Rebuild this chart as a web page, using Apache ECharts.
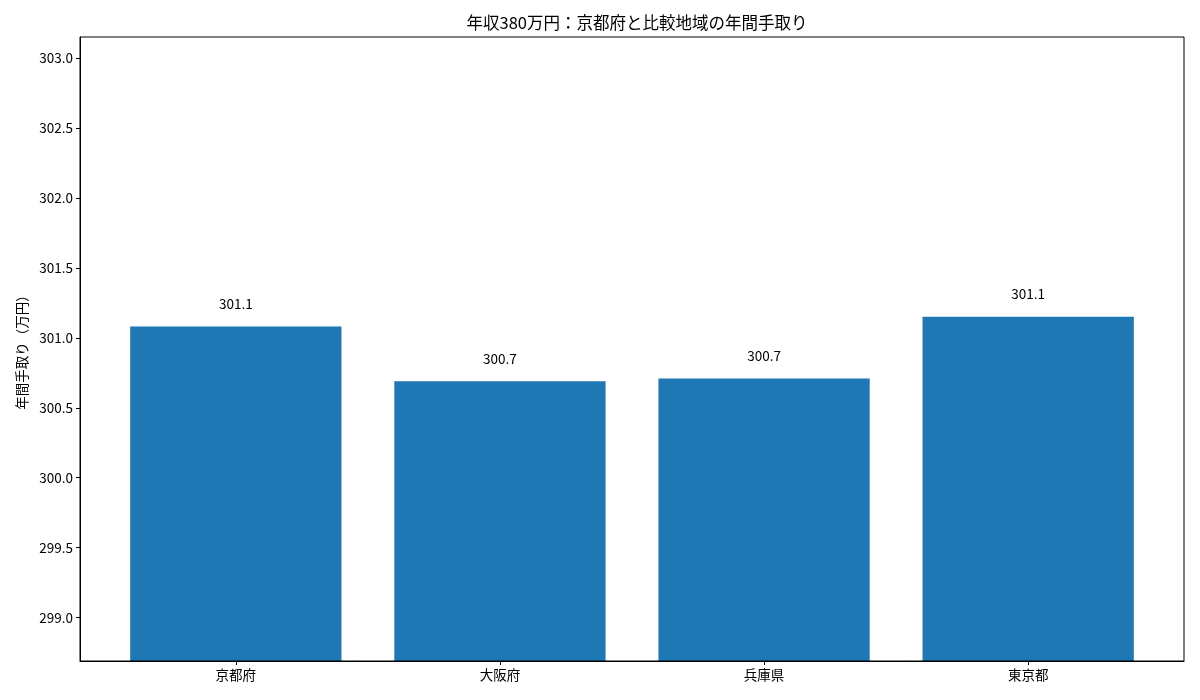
<!DOCTYPE html>
<html>
<head>
<meta charset="utf-8">
<script src="https://cdn.jsdelivr.net/npm/echarts@6/dist/echarts.min.js"></script>
<style>
    html, body { margin: 0; padding: 0; background: #fff; }
    #chart { width: 1200px; height: 700px; }
</style>
</head>
<body>
<div id="chart"></div>
<script>
// 地域ごとの年間手取り（万円）
const regions = ['京都府', '大阪府', '兵庫県', '東京都'];
const takeHome = [301.08, 300.69, 300.71, 301.15];
const yTicks = [299.0, 299.5, 300.0, 300.5, 301.0, 301.5, 302.0, 302.5, 303.0];
const xTicks = [0, 1, 2, 3];

const FONT = '"Noto Sans CJK JP", "Noto Sans", sans-serif';

const myChart = echarts.init(document.getElementById('chart'));

const option = {
    animation: false,
    textStyle: { fontFamily: FONT },
    title: {
        text: '年収380万円：京都府と比較地域の年間手取り',
        left: 632,
        textAlign: 'center',
        top: 9,
        textStyle: { fontFamily: FONT, fontSize: 16.5, fontWeight: 'normal', color: '#000' }
    },
    grid: { left: 80, right: 16, top: 37, bottom: 39 },
    xAxis: {
        type: 'value',
        min: -0.59,
        max: 3.59,
        splitLine: { show: false },
        axisLine: { show: true, onZero: false, lineStyle: { color: '#000', width: 1 } },
        axisTick: { show: true, customValues: xTicks, length: 4, lineStyle: { color: '#000' } },
        axisLabel: {
            customValues: xTicks,
            formatter: v => regions[Math.round(v)],
            color: '#000',
            fontSize: 13.5,
            margin: 7,
            fontFamily: FONT
        }
    },
    yAxis: {
        type: 'value',
        min: 298.69,
        max: 303.15,
        name: '年間手取り（万円）',
        nameLocation: 'middle',
        nameGap: 51,
        nameTextStyle: { color: '#000', fontSize: 13.5, fontFamily: FONT },
        splitLine: { show: false },
        axisLine: { show: true, onZero: false, lineStyle: { color: '#000', width: 1 } },
        axisTick: { show: true, customValues: yTicks, length: 4, lineStyle: { color: '#000' } },
        axisLabel: {
            customValues: yTicks,
            formatter: v => v.toFixed(1),
            color: '#000',
            fontSize: 13.5,
            margin: 7,
            fontFamily: FONT
        }
    },
    series: [{
        type: 'bar',
        data: takeHome.map((v, i) => [xTicks[i], v]),
        barWidth: '80%',
        itemStyle: { color: '#1f77b4' },
        label: {
            show: true,
            position: 'top',
            distance: 16,
            formatter: p => p.value[1].toFixed(1),
            color: '#000',
            fontSize: 13.5,
            fontFamily: FONT
        }
    }],
    graphic: [{
        type: 'rect',
        shape: { x: 80, y: 37, width: 1104, height: 624 },
        style: { fill: null, stroke: '#000', lineWidth: 1 },
        silent: true,
        z: 100
    }]
};

myChart.setOption(option);
</script>
</body>
</html>
